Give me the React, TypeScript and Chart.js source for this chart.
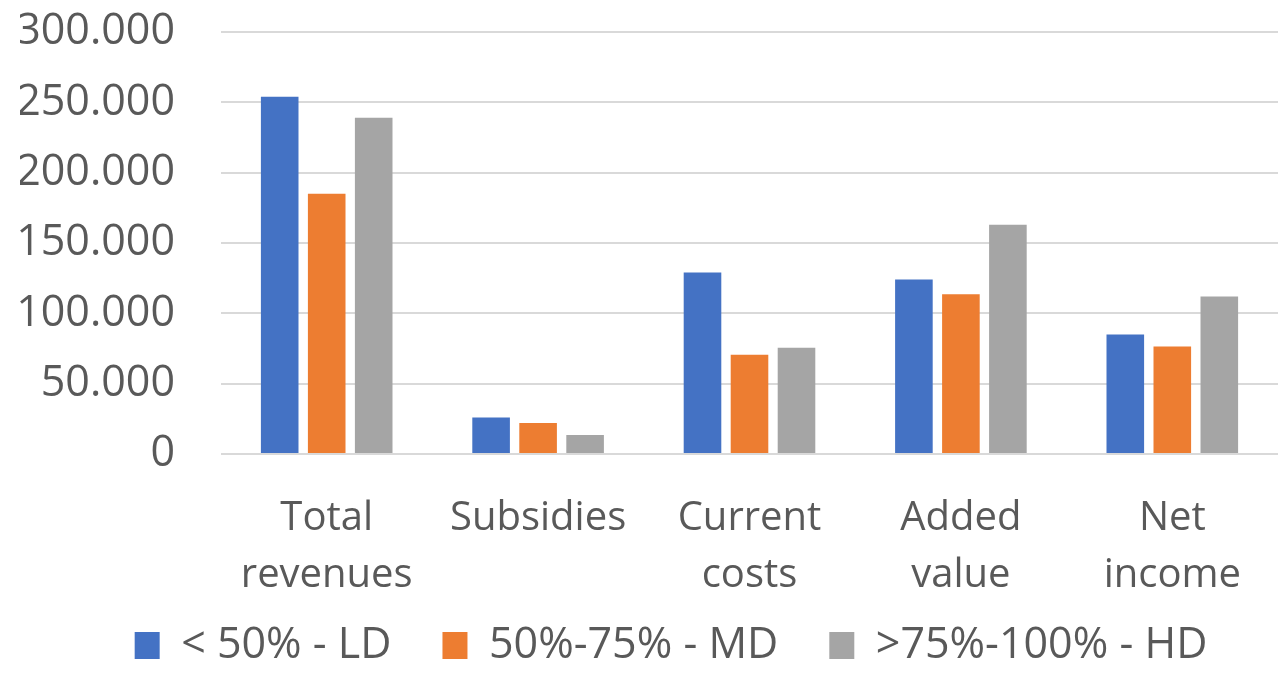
import React, { useEffect, useRef } from "react";
import { Chart, registerables } from "chart.js";

Chart.register(...registerables);

const categories: string[][] = [
  ["Total", "revenues"],
  ["Subsidies"],
  ["Current", "costs"],
  ["Added", "value"],
  ["Net", "income"],
];
const seriesNames = ["< 50% - LD", "50%-75% - MD", ">75%-100% - HD"];
const ldValues = [254000, 26000, 129000, 124000, 85000];
const mdValues = [185000, 22000, 70500, 113500, 76500];
const hdValues = [239000, 13500, 75500, 163000, 112000];
const seriesColors = ["#4472C4", "#ED7D31", "#A5A5A5"];

const fmt = (v: number) =>
  String(Math.round(v)).replace(/\B(?=(\d{3})+(?!\d))/g, ".");

// nudges the legend box so it sits where the reference places it
const legendNudge = {
  id: "legendNudge",
  afterLayout(chart: any) {
    const l = chart.legend;
    if (!l) return;
    l.top -= 31;
    l.bottom = chart.height;
    l.height = l.bottom - l.top;
    l.left += 22;
    l.right += 22;
  },
};

export default function App() {
  const ref = useRef<HTMLCanvasElement | null>(null);
  useEffect(() => {
    if (!ref.current) return;
    const font = "'Open Sans', sans-serif";
    const text = "#595959";
    const chart = new Chart(ref.current, {
      type: "bar",
      data: {
        labels: categories,
        datasets: [ldValues, mdValues, hdValues].map((d, i) => ({
          label: seriesNames[i],
          data: d,
          backgroundColor: seriesColors[i],
          borderWidth: 0,
          categoryPercentage: 0.667,
          barPercentage: 0.8,
        })),
      },
      plugins: [legendNudge],
      options: {
        animation: false,
        responsive: true,
        maintainAspectRatio: false,
        layout: { padding: { left: 20, top: 32, right: 0, bottom: 0 } },
        plugins: {
          tooltip: { enabled: false },
          legend: {
            position: "bottom",
            maxHeight: 70,
            labels: {
              color: text,
              font: { family: font, size: 43 },
              boxWidth: 25,
              boxHeight: 27,
              padding: 51,
            },
          },
        },
        scales: {
          x: {
            grid: { display: false, drawTicks: false },
            border: { display: false },
            ticks: {
              color: text,
              font: { family: font, size: 40, lineHeight: 1.425 },
              padding: 36,
              maxRotation: 0,
              autoSkip: false,
            },
            afterFit: (s: any) => {
              s.height = 150;
              s.paddingLeft = 0;
              s.paddingRight = 0;
            },
          },
          y: {
            min: 0,
            max: 300000,
            border: { display: false },
            grid: { color: "#D9D9D9", lineWidth: 2, drawTicks: false },
            ticks: {
              stepSize: 50000,
              autoSkip: false,
              color: text,
              font: { family: font, size: 43 },
              padding: 46,
              callback: (v: any) => fmt(Number(v)),
            },
            afterFit: (s: any) => {
              s.width = 201;
              s.paddingTop = 0;
              s.paddingBottom = 0;
            },
          },
        },
      },
    });
    return () => chart.destroy();
  }, []);
  return (
    <div
      style={{
        position: "fixed",
        left: 0,
        top: 0,
        width: 1278,
        height: 674,
        background: "#fff",
      }}
    >
      <canvas ref={ref} />
    </div>
  );
}
